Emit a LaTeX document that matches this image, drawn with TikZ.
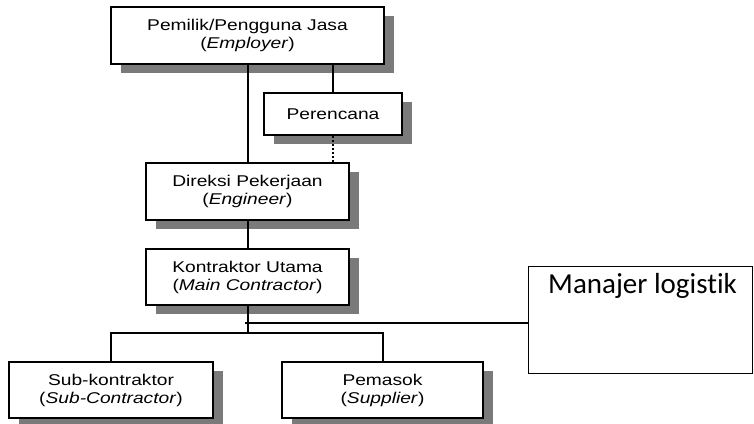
\documentclass[tikz,border=0pt]{standalone}
\usepackage{fontspec}
\setmainfont{Liberation Sans}
\newfontfamily\orgfont[FakeStretch=1.23]{Liberation Sans}
\newfontfamily\notefont[Ligatures=NoCommon]{Carlito}
\usetikzlibrary{shadows}
\begin{document}
\begin{tikzpicture}[x=1pt,y=-1pt,
  orgbox/.style={draw=black, line width=1.8pt, fill=white, align=center,
    inner sep=0pt, font=\orgfont\fontsize{15.6}{18}\selectfont,
    drop shadow={shadow xshift=10pt, shadow yshift=-9pt, fill=black!52, opacity=1}},
  link/.style={line width=2pt, draw=black},
  notebox/.style={draw=black, line width=1.1pt, fill=white, inner sep=0pt}]
\useasboundingbox (0,0) rectangle (754,423);

% organisation boxes
\node[orgbox, minimum width=273pt, minimum height=57pt] (emp) at (247.5,35.5)
  {Pemilik/Pengguna Jasa\\(\textit{Employer})};
\node[orgbox, minimum width=138pt, minimum height=42pt] (per) at (333,114)
  {Perencana};
\node[orgbox, minimum width=203pt, minimum height=57pt] (dir) at (247.5,191.5)
  {Direksi Pekerjaan\\(\textit{Engineer})};
\node[orgbox, minimum width=203pt, minimum height=56pt] (kon) at (247.5,277)
  {Kontraktor Utama\\(\textit{Main Contractor})};
\node[orgbox, minimum width=204pt, minimum height=56pt] (sub) at (111,390)
  {Sub-kontraktor\\(\textit{Sub-Contractor})};
\node[orgbox, minimum width=201pt, minimum height=56pt] (pem) at (382.5,390)
  {Pemasok\\(\textit{Supplier})};

% logistics manager box
\node[notebox, minimum width=224pt, minimum height=107pt, anchor=north west] (ml) at (528,266) {};
\node[anchor=west, inner sep=0pt, font=\notefont\fontsize{29}{33}\selectfont] (mlt) at (548,286) {Manajer logistik};

% connectors
\draw[link] (emp.south) -- (dir.north);
\draw[link] (per.north) -- (per.north |- emp.south);
\draw[link, dotted] (per.south) -- (per.south |- dir.north);
\draw[link] (dir.south) -- (kon.north);
\coordinate (br) at (247.5,333);
\draw[link] (kon.south) -- (br);
\draw[link] (sub.north) -- (sub.north |- br) -- (pem.north |- br) -- (pem.north);
\coordinate (tap) at (245,323);
\draw[line width=1.4pt] (tap) -- (tap -| ml.west);
\end{tikzpicture}
\end{document}
